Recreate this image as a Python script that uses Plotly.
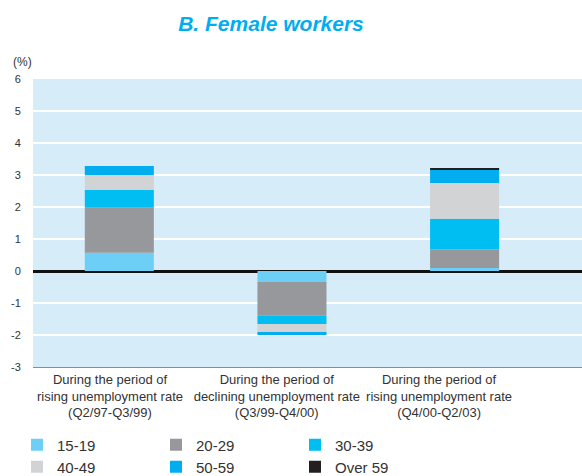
import plotly.graph_objects as go

categories = [0, 1, 2]
tick_positions = [-0.054, 0.912, 1.852]
tick_labels = [
    "During the period of<br>rising unemployment rate<br>(Q2/97-Q3/99)",
    "During the period of<br>declining unemployment rate<br>(Q3/99-Q4/00)",
    "During the period of<br>rising unemployment rate<br>(Q4/00-Q2/03)",
]
y_ticks = [-3, -2, -1, 0, 1, 2, 3, 4, 5, 6]
y_tick_labels = ["-3", "-2", "-1", "0", "1", "2", "3", "4", "5", "6"]
series_names = ["15-19", "20-29", "30-39", "40-49", "50-59", "Over 59"]
v_15_19 = [0.57, -0.34, 0.09]
v_20_29 = [1.41, -1.06, 0.58]
v_30_39 = [0.55, -0.26, 0.96]
v_40_49 = [0.47, -0.25, 1.12]
v_50_59 = [0.28, -0.09, 0.41]
v_over59 = [0.0, 0.0, 0.06]
colors = ["#6DCFF6", "#96989C", "#00BDF2", "#D1D3D4", "#00AEEF", "#231F20"]

values = [v_15_19, v_20_29, v_30_39, v_40_49, v_50_59, v_over59]
FONT = "Liberation Sans, Arial, sans-serif"

fig = go.Figure()
for i, (name, vals, col) in enumerate(zip(series_names, values, colors)):
    fig.add_trace(go.Bar(
        x=categories, y=vals, name=name, marker_color=col,
        marker_line_width=0, width=0.4,
        legend="legend" if i < 3 else "legend2",
    ))

leg_common = dict(
    orientation="h", entrywidth=94, entrywidthmode="pixels",
    font=dict(family=FONT, size=15, color="#333333"),
    bgcolor="rgba(0,0,0,0)", xref="container", yref="container",
    xanchor="left", yanchor="middle", traceorder="normal",
    itemclick=False, tracegroupgap=0,
)

fig.update_layout(
    width=582, height=476,
    margin=dict(l=33, r=0, t=79, b=109),
    paper_bgcolor="white", plot_bgcolor="#D6EDF9",
    barmode="relative",
    font=dict(family=FONT, color="#333333"),
    title=dict(text="<b><i>B. Female workers</i></b>", x=271 / 582, xanchor="center",
               y=1 - 24 / 476, yanchor="middle", yref="container", xref="container",
               font=dict(family=FONT, size=21, color="#00AEEF")),
    legend=dict(x=17 / 582, y=1 - 445 / 476, **leg_common),
    legend2=dict(x=17 / 582, y=1 - 467 / 476, **leg_common),
    xaxis=dict(range=[-0.5, 2.68], tickvals=tick_positions, ticktext=tick_labels,
               showgrid=False, zeroline=False, showline=True, linecolor="#8C8C8C",
               linewidth=1, ticks="", tickfont=dict(family=FONT, size=13, color="#333333")),
    yaxis=dict(range=[-3, 6], tickvals=y_ticks, ticktext=y_tick_labels,
               showgrid=True, gridcolor="white", gridwidth=2,
               zeroline=True, zerolinecolor="#111111", zerolinewidth=2.5,
               ticks="outside", ticklen=9, tickcolor="rgba(0,0,0,0)",
               tickfont=dict(family=FONT, size=11, color="#333333")),
    showlegend=True,
    annotations=[dict(text="(%)", xref="paper", yref="paper", x=-0.04, y=1 + 17 / 288,
                      xanchor="left", yanchor="middle", showarrow=False,
                      font=dict(family=FONT, size=12, color="#333333"))],
)

fig.write_html("out.html", config={"displayModeBar": False},
               post_script="document.body.style.margin='0';document.body.style.overflow='hidden';")
